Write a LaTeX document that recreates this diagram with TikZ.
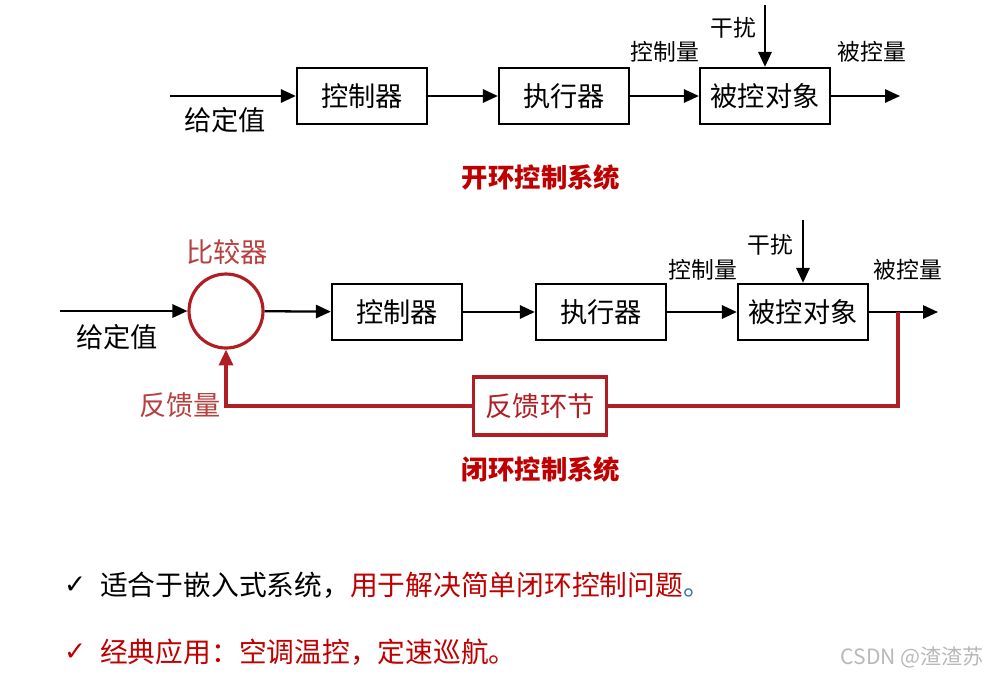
\documentclass[tikz,border=0pt]{standalone}
\usepackage{fontspec}
\setmainfont{Noto Sans CJK SC}
\newfontfamily\symfont{DejaVu Sans}
\usetikzlibrary{arrows.meta}
\definecolor{loopred}{HTML}{B01E24}
\definecolor{titlered}{HTML}{C00000}
\definecolor{lblred}{HTML}{B5403F}
\definecolor{dotblue}{HTML}{2F6DB5}
\definecolor{wmark}{HTML}{B8B8B8}
\tikzset{block/.style={black,draw=black,line width=1.3pt,rectangle,minimum width=2.6cm,minimum height=1.12cm,font=\fontsize{15.5}{17}\selectfont}}
\tikzset{fbblock/.style={loopred,draw=loopred,line width=1.8pt,rectangle,minimum width=2.66cm,minimum height=1.16cm,font=\fontsize{15.5}{17}\selectfont}}
\tikzset{cmp/.style={draw=loopred,line width=1.8pt,circle,minimum size=1.48cm,inner sep=0pt}}
\tikzset{lbl/.style={black,font=\fontsize{13}{15}\selectfont,inner sep=1pt}}
\tikzset{title/.style={titlered,font=\fontsize{15}{17}\selectfont\bfseries}}
\tikzset{sig/.style={line width=1.3pt,-{Triangle[length=8.5pt,width=7.5pt]}}}
\tikzset{fbline/.style={loopred,line width=1.8pt}}

\begin{document}
\begin{tikzpicture}[x=0.02cm,y=-0.02cm]
    \useasboundingbox (0,0) rectangle (993,674);

    % open loop
    \node[block] (ctrl1) at (362,96) {控制器};
    \node[block] (act1) at (564,96) {执行器};
    \node[block] (plant1) at (765,96) {被控对象};
    \coordinate (in1) at (170,96);
    \coordinate (out1) at (900,96);
    \coordinate (dist1) at (765,5);

    \node[lbl,font=\fontsize{15.5}{17}\selectfont] (ref1) at (225,120) {给定值};
    \node[lbl] (u1) at (665,52) {控制量};
    \node[lbl] (d1) at (733,28) {干扰};
    \node[lbl] (y1) at (872,52) {被控量};
    \node[title] (t1) at (541,177) {开环控制系统};

    \draw[sig] (in1) -- (ctrl1);
    \draw[sig] (ctrl1) -- (act1);
    \draw[sig] (act1) -- (plant1);
    \draw[sig] (plant1) -- (out1);
    \draw[sig] (dist1) -- (plant1.north);

    % closed loop
    \node[cmp] (sum) at (226,311) {};
    \node[block] (ctrl2) at (397,312) {控制器};
    \node[block] (act2) at (601,312) {执行器};
    \node[block] (plant2) at (803,312) {被控对象};
    \node[fbblock] (fb) at (540,406) {反馈环节};
    \coordinate (in2) at (60,311);
    \coordinate (out2) at (938,312);
    \coordinate (tap) at (898,312);
    \coordinate (dist2) at (803,220);

    \node[lbl,lblred,font=\fontsize{15.5}{17}\selectfont] (cmplbl) at (227,252) {比较器};
    \node[lbl,font=\fontsize{15.5}{17}\selectfont] (ref2) at (117,337) {给定值};
    \node[lbl] (u2) at (703,270) {控制量};
    \node[lbl] (d2) at (770,245) {干扰};
    \node[lbl] (y2) at (908,270) {被控量};
    \node[lbl,lblred,font=\fontsize{15.5}{17}\selectfont] (fblbl) at (180,405) {反馈量};
    \node[title] (t2) at (541,469) {闭环控制系统};

    \draw[sig] (in2) -- (sum);
    \draw[sig] (sum) -- (ctrl2);
    \draw[sig] (ctrl2) -- (act2);
    \draw[sig] (act2) -- (plant2);
    \draw[sig] (plant2) -- (out2);
    \draw[sig] (dist2) -- (plant2.north);
    \draw[fbline] (tap) |- (fb.east);
    \draw[fbline,-{Triangle[length=9pt,width=8pt]}] (fb.west) -| (sum.south);

    % notes
    \node[anchor=west,font=\symfont\fontsize{15}{17}\selectfont] (chk1) at (58,585) {✓};
    \node[anchor=west,font=\fontsize{15.8}{18}\selectfont] (note1) at (94,585)
    {适合于嵌入式系统，\textcolor{titlered}{用于解决简单闭环控制问题}\textcolor{dotblue}{。}};
    \node[anchor=west,titlered,font=\symfont\fontsize{15}{17}\selectfont] (chk2) at (58,652) {✓};
    \node[anchor=west,titlered,font=\fontsize{15.8}{18}\selectfont] (note2) at (94,652)
    {经典应用：空调温控，定速巡航。};
    \node[anchor=east,wmark,font=\fontsize{12}{14}\selectfont] (wm) at (990,657) {CSDN @渣渣苏};

  \end{tikzpicture}
\end{document}
